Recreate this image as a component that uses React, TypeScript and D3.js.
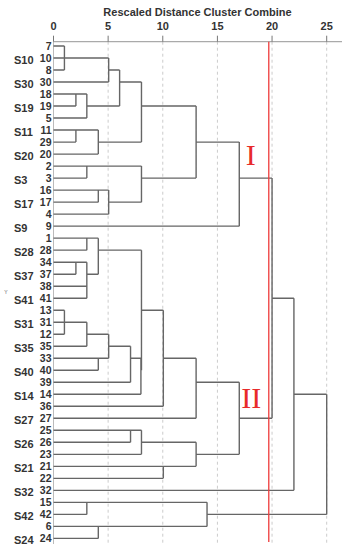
import React from "react";
import * as d3 from "d3";

// leaf order top to bottom
const leafOrder = [
  "7", "10", "8", "30", "18", "19", "5", "11", "29", "20", "2", "3", "16", "17", "4", "9",
  "1", "28", "34", "37", "38", "41", "13", "31", "12", "35", "33", "40", "39", "14", "36", "27",
  "25", "26", "23", "21", "22", "32", "15", "42", "6", "24",
];

// sample labels and the leaf they sit beside
const groupLabels: [string, string][] = [
  ["S10", "10"], ["S30", "30"], ["S19", "19"], ["S11", "11"], ["S20", "20"], ["S3", "3"],
  ["S17", "17"], ["S9", "9"], ["S28", "28"], ["S37", "37"], ["S41", "41"], ["S31", "31"],
  ["S35", "35"], ["S40", "40"], ["S14", "14"], ["S27", "27"], ["S26", "26"], ["S21", "21"],
  ["S32", "32"], ["S42", "42"], ["S24", "24"],
];

// merge schedule: id, members, rescaled distance
const merges: [string, string[], number][] = [
  ["n1", ["7", "10", "8"], 1.0],
  ["n2", ["n1", "30"], 5.05],
  ["n3", ["18", "19"], 2.05],
  ["n4", ["n3", "5"], 3.05],
  ["n5", ["n2", "n4"], 6.05],
  ["n6", ["11", "29"], 2.05],
  ["n7", ["n6", "20"], 4.1],
  ["n8", ["n5", "n7"], 8.05],
  ["n9", ["2", "3"], 3.05],
  ["n10", ["16", "17"], 4.1],
  ["n11", ["n10", "4"], 5.05],
  ["n12", ["n9", "n11"], 8.05],
  ["n13", ["n8", "n12"], 13.05],
  ["I", ["n13", "9"], 17.0],
  ["a1", ["1", "28"], 3.05],
  ["a2", ["34", "37"], 2.05],
  ["a3", ["a2", "38", "41"], 3.05],
  ["a4", ["a1", "a3"], 4.1],
  ["b1", ["13", "31", "12"], 1.0],
  ["b2", ["b1", "35"], 3.05],
  ["b3", ["33", "40"], 4.1],
  ["b4", ["b2", "b3"], 5.05],
  ["b5", ["b4", "39"], 7.05],
  ["c1", ["b5", "14"], 8.0],
  ["c2", ["a4", "c1"], 8.05],
  ["c3", ["c2", "36"], 10.05],
  ["c4", ["c3", "27"], 13.05],
  ["d1", ["25", "26"], 7.05],
  ["d2", ["d1", "23"], 8.05],
  ["d3", ["21", "22"], 10.05],
  ["d4", ["d2", "d3"], 13.05],
  ["II", ["c4", "d4"], 17.0],
  ["m1", ["I", "II"], 20.0],
  ["m2", ["m1", "32"], 22.0],
  ["e1", ["15", "42"], 3.05],
  ["e2", ["6", "24"], 4.1],
  ["e3", ["e1", "e2"], 14.05],
  ["root", ["m2", "e3"], 25.0],
];

const cutValue = 19.7;
// cluster mark: label, node it belongs to, distance position, row offset from node
const clusterMarks: [string, string, number, number][] = [
  ["I", "n13", 18.05, 1],
  ["II", "II", 18.1, -1.7],
];

type TNode = { name: string; dist: number; children?: TNode[] };

function buildTree(): TNode {
  const map = new Map<string, TNode>();
  leafOrder.forEach((l) => map.set(l, { name: l, dist: 0 }));
  merges.forEach(([id, kids, h]) => {
    map.set(id, { name: id, dist: h, children: kids.map((k) => map.get(k)!) });
  });
  return map.get("root")!;
}

export default function App() {
  const width = 349;
  const height = 550;
  const x = d3.scaleLinear().domain([0, 25]).range([53.5, 326.7]);
  const y = d3.scaleLinear().domain([0, leafOrder.length - 1]).range([46, 538.4]);
  const axisY = 41.7;

  const root = d3.hierarchy<TNode>(buildTree());
  const rowOf = new Map<any, number>();
  root.eachAfter((n) => {
    if (!n.children) rowOf.set(n, leafOrder.indexOf(n.data.name));
    else {
      const a = rowOf.get(n.children[0])!;
      const b = rowOf.get(n.children[n.children.length - 1])!;
      rowOf.set(n, Math.floor((a + b) / 2));
    }
  });

  const paths: string[] = [];
  root.each((n) => {
    if (!n.children) return;
    const xn = x(n.data.dist);
    const first = rowOf.get(n.children[0])!;
    const last = rowOf.get(n.children[n.children.length - 1])!;
    paths.push(`M${xn},${y(first)}V${y(last)}`);
    n.children.forEach((c) => {
      paths.push(`M${x(c.data.dist)},${y(rowOf.get(c)!)}H${xn}`);
    });
  });

  const nodeById = new Map<string, any>();
  root.each((n) => nodeById.set(n.data.name, n));

  const ticks = x.ticks(5);
  const font = "'Liberation Sans', Arial, sans-serif";

  return (
    <svg width={width} height={height} style={{ position: "absolute", left: 0, top: 0, background: "#fff" }}>
      <text x={197.5} y={12} textAnchor="middle" dominantBaseline="central" fontFamily={font}
        fontWeight="bold" fontSize={11} fill="#333">Rescaled Distance Cluster Combine</text>
      {/* grid */}
      {ticks.map((t) => (
        <line key={"g" + t} x1={x(t)} x2={x(t)} y1={axisY} y2={544}
          stroke={t === 0 ? "#bbb" : "#ccc"} strokeWidth={1}
          strokeDasharray={t === 0 ? undefined : "3,3"} />
      ))}
      {/* axis */}
      <line x1={x(0)} x2={342} y1={axisY} y2={axisY} stroke="#aaa" strokeWidth={1.2} />
      {ticks.map((t) => (
        <g key={"t" + t}>
          <line x1={x(t)} x2={x(t)} y1={axisY - 6} y2={axisY} stroke="#777" strokeWidth={1} />
          <text x={x(t)} y={26} textAnchor="middle" dominantBaseline="central" fontFamily={font}
            fontWeight="bold" fontSize={11} fill="#333">{t}</text>
        </g>
      ))}
      {/* dendrogram */}
      <path d={paths.join("")} fill="none" stroke="#666" strokeWidth={1.4} />
      {/* cut line */}
      <line x1={x(cutValue)} x2={x(cutValue)} y1={axisY} y2={542} stroke="#ee3b3b" strokeWidth={1.3} />
      {clusterMarks.map(([label, id, at, off]) => {
        const n = nodeById.get(id);
        return (
          <text key={label} x={x(at)} y={y(rowOf.get(n)! + off)} textAnchor="middle" dominantBaseline="central"
            fontFamily="'Liberation Serif', 'Times New Roman', serif" fontSize={30} fill="#e82b2b">{label}</text>
        );
      })}
      {/* leaf labels */}
      {leafOrder.map((l, i) => (
        <text key={"l" + l} x={51.5} y={y(i)} textAnchor="end" dominantBaseline="central" fontFamily={font}
          fontWeight="bold" fontSize={10.5} fill="#333">{l}</text>
      ))}
      {groupLabels.map(([s, l]) => (
        <text key={s} x={14} y={y(leafOrder.indexOf(l)) + 2} dominantBaseline="central" fontFamily={font}
          fontWeight="bold" fontSize={11} fill="#333">{s}</text>
      ))}
      <text x={6} y={292} textAnchor="middle" dominantBaseline="central" fontFamily={font} fontSize={5} fill="#666">Y</text>
    </svg>
  );
}
